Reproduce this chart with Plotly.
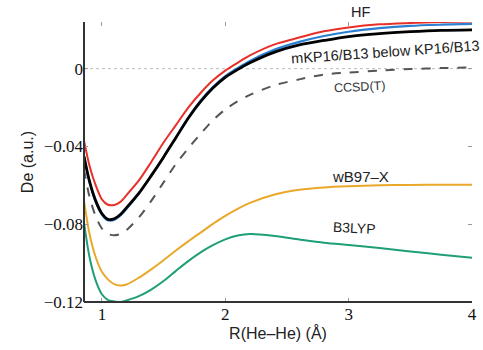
import plotly.graph_objects as go

R = [0.855, 0.9, 0.95, 1.0, 1.05, 1.1, 1.15, 1.2, 1.3, 1.4, 1.5, 1.6, 1.7, 1.8, 1.9,
     2.0, 2.1, 2.2, 2.4, 2.6, 2.8, 3.0, 3.25, 3.5, 3.75, 4.0]

hf = [-0.037, -0.050, -0.060, -0.0672, -0.0700, -0.0701, -0.0685, -0.0650, -0.0575, -0.0480,
      -0.0380, -0.0290, -0.0200, -0.0125, -0.0060, -0.0010, 0.0030, 0.0068, 0.0125, 0.0160,
      0.0192, 0.0212, 0.0228, 0.0235, 0.0240, 0.0243]

kp16 = [-0.0455, -0.0585, -0.0685, -0.0750, -0.0780, -0.0778, -0.0755, -0.0720, -0.0643, -0.0552,
        -0.0455, -0.0353, -0.0252, -0.0165, -0.0095, -0.0038, 0.0003, 0.0040, 0.0098, 0.0138,
        0.0168, 0.0190, 0.0208, 0.0220, 0.0226, 0.0230]

mkp16 = [-0.0450, -0.0580, -0.0680, -0.0745, -0.0775, -0.0772, -0.0750, -0.0715, -0.0640, -0.0550,
         -0.0455, -0.0355, -0.0255, -0.0170, -0.0100, -0.0045, -0.0005, 0.0030, 0.0085, 0.0122,
         0.0145, 0.0165, 0.0180, 0.0190, 0.0197, 0.0200]

ccsdt = [-0.052, -0.066, -0.076, -0.0822, -0.0850, -0.0857, -0.0850, -0.0830, -0.0765, -0.0680,
         -0.0585, -0.0490, -0.0410, -0.0335, -0.0265, -0.0210, -0.0168, -0.0135, -0.0085, -0.0055,
         -0.0030, -0.0020, -0.0010, -0.0002, 0.0003, 0.0007]

wb97x = [-0.068, -0.085, -0.097, -0.1045, -0.1085, -0.1108, -0.1115, -0.1110, -0.1075, -0.1032,
         -0.0985, -0.0935, -0.0888, -0.0843, -0.0798, -0.0757, -0.0721, -0.0690, -0.0647, -0.0623,
         -0.0611, -0.0605, -0.0600, -0.0598, -0.0597, -0.0597]

b3lyp = [-0.079, -0.097, -0.109, -0.1160, -0.1190, -0.1197, -0.1200, -0.1192, -0.1170, -0.1136,
         -0.1092, -0.1040, -0.0990, -0.0945, -0.0908, -0.0878, -0.0858, -0.0850, -0.0860, -0.0878,
         -0.0895, -0.0907, -0.0922, -0.0940, -0.0957, -0.0973]

x_ticks = [1, 2, 3, 4]
y_ticks = [0, -0.04, -0.08, -0.12]
y_tick_text = ["0", "\u22120.04", "\u22120.08", "\u22120.12"]

fig = go.Figure()

def add(y, color, width, dash="solid"):
    fig.add_trace(go.Scatter(x=R, y=y, mode="lines",
                             line=dict(color=color, width=width, dash=dash, shape="spline", smoothing=0.8),
                             showlegend=False, hoverinfo="skip", cliponaxis=True))

add(b3lyp, "#1f9e78", 2)
add(wb97x, "#e9a82a", 2)
add(ccsdt, "#555555", 2, dash="dash")
add(hf, "#e8302a", 2)
add(kp16, "#2a7fd0", 2.2)
add(mkp16, "#000000", 2.8)

fig.add_shape(type="line", xref="paper", yref="y", x0=0, x1=1, y0=0, y1=0,
              line=dict(color="#bbbbbb", width=1, dash="dot"), layer="below")
fig.add_shape(type="line", xref="paper", yref="paper", x0=0, x1=0, y0=0, y1=1,
              line=dict(color="#333333", width=2))
fig.add_shape(type="line", xref="paper", yref="paper", x0=0, x1=1, y0=0, y1=0,
              line=dict(color="#333333", width=2))

sans = "Liberation Sans, Arial, sans-serif"
serif = "Liberation Serif, Times New Roman, serif"

def label(text, x, y, size, angle=0, color="#222222", yref="y"):
    fig.add_annotation(text=text, x=x, y=y, xref="x", yref=yref, showarrow=False,
                       xanchor="center", yanchor="middle",
                       font=dict(family=sans, size=size, color=color), textangle=angle)

label("HF", 3.10, 1.034, 14.5, yref="paper")
label("mKP16/B13 below KP16/B13", 3.30, 0.0087, 14.5, angle=-4)
label("CCSD(T)", 3.09, -0.0093, 12.5, angle=-3, color="#333333")
label("wB97\u2013X", 3.10, -0.0555, 15)
label("B3LYP", 3.05, -0.0818, 14, angle=3)

fig.update_layout(
    width=483, height=350,
    margin=dict(l=84, r=11, t=22, b=48),
    paper_bgcolor="white", plot_bgcolor="white",
    xaxis=dict(range=[0.855, 4.0], tickvals=x_ticks, ticks="inside", ticklen=4,
               tickcolor="#999999", mirror="ticks", showline=False, showgrid=False, zeroline=False,
               automargin=False,
               tickfont=dict(family=serif, size=17, color="#111111"),
               title=dict(text="R(He\u2013He) (\u00c5)", font=dict(family=sans, size=16, color="#222222"),
                          standoff=2)),
    yaxis=dict(range=[-0.12, 0.024], tickvals=y_ticks, ticktext=y_tick_text, ticks="inside",
               ticklen=4, tickcolor="#999999", mirror="ticks", showline=False, showgrid=False,
               zeroline=False, automargin=False,
               tickfont=dict(family=serif, size=17, color="#111111"),
               title=dict(text="De (a.u.)", font=dict(family=sans, size=16, color="#222222"),
                          standoff=6)),
)

fig.write_html("out.html", config={"displayModeBar": False},
               post_script="document.body.style.margin='0';")
